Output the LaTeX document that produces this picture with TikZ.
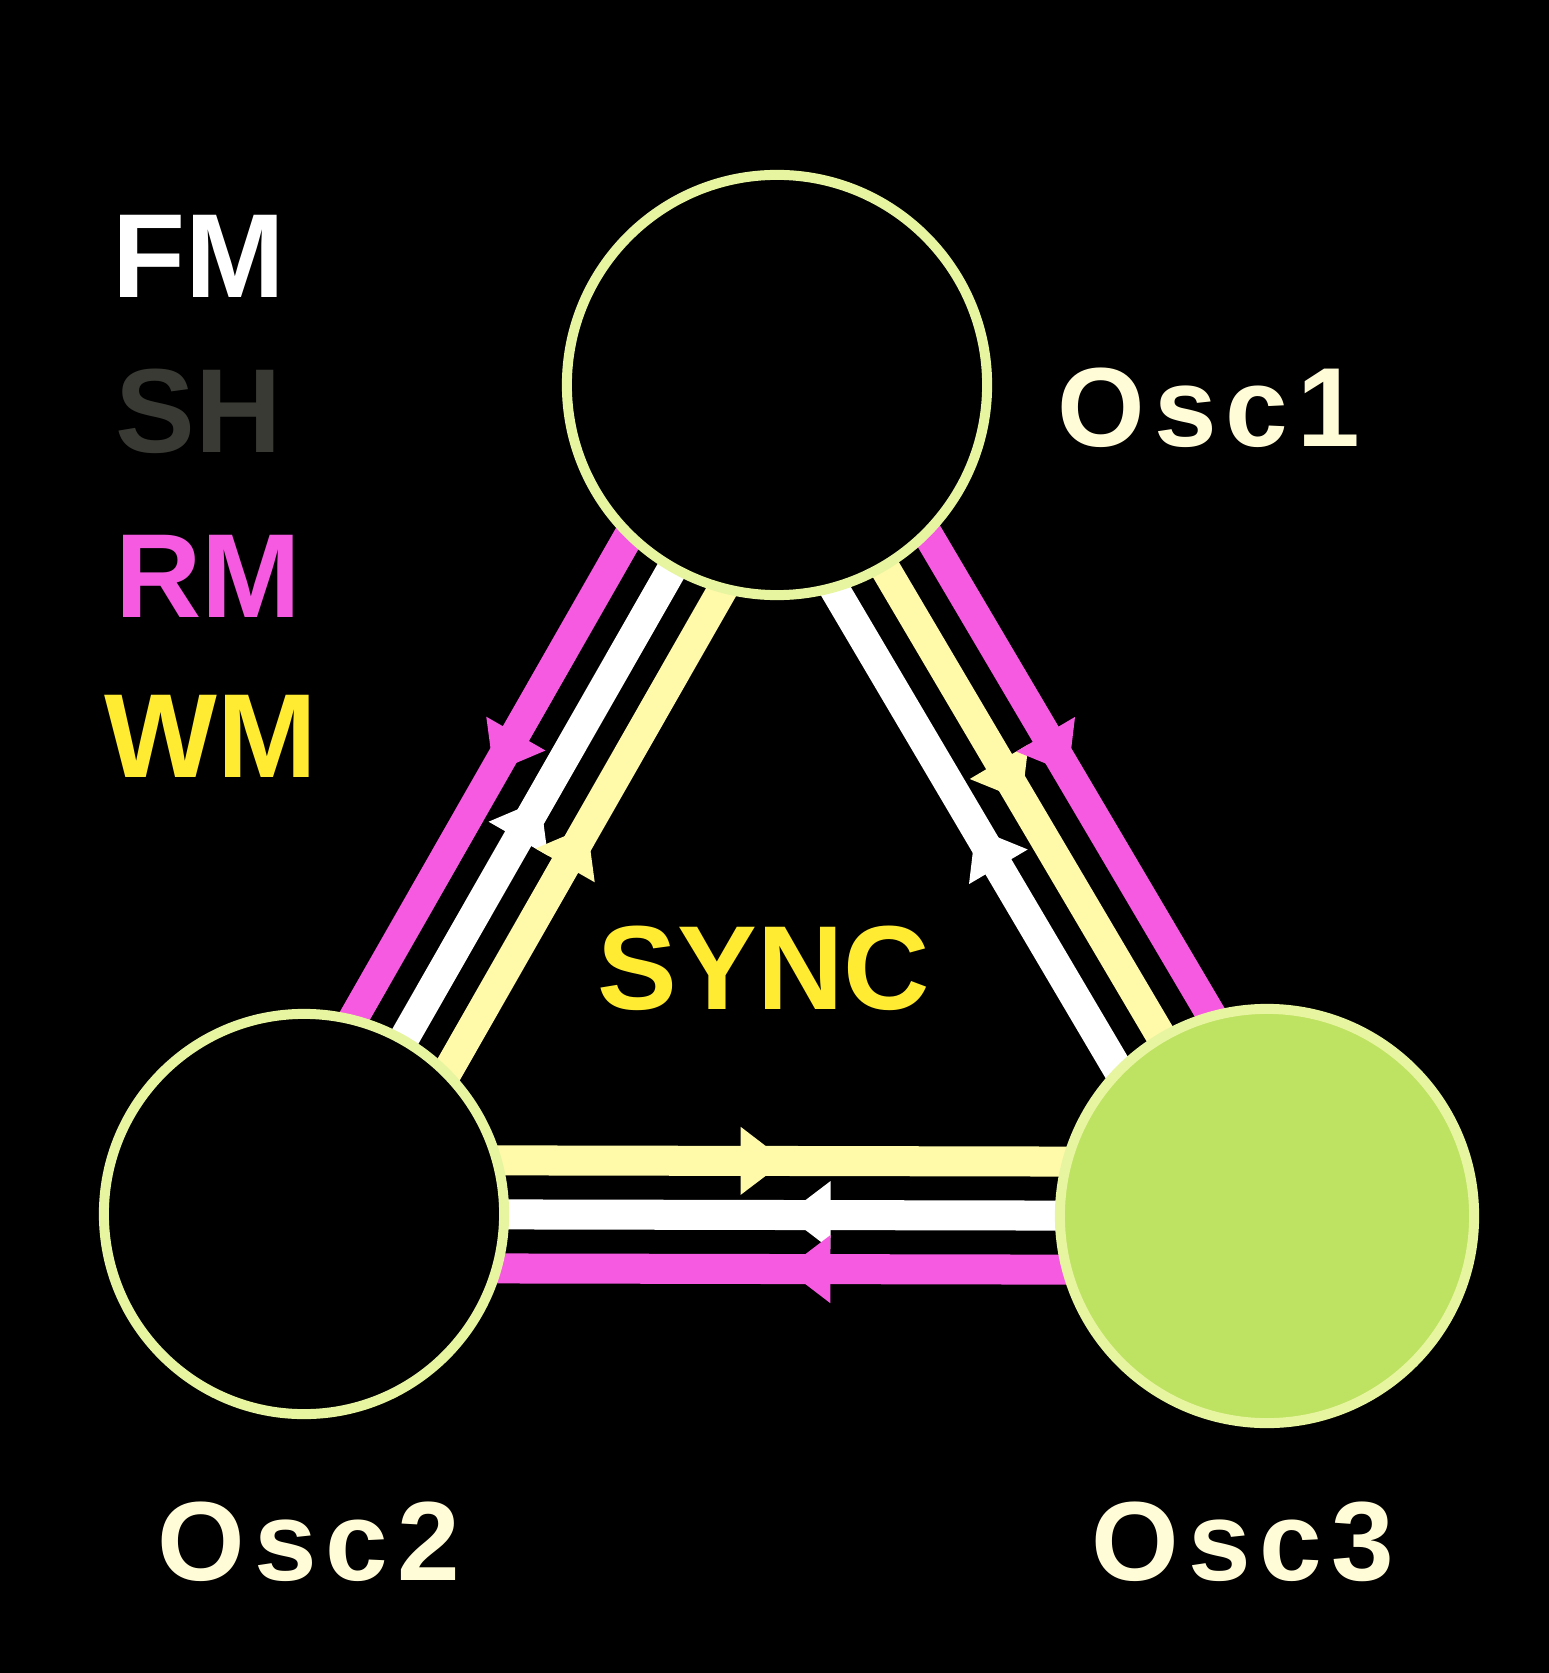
\documentclass[tikz,border=0pt]{standalone}
\usepackage{fontspec}
\setmainfont{Liberation Sans}
\usetikzlibrary{positioning, arrows.meta, calc, backgrounds, decorations.markings}

\definecolor{rmpink}{RGB}{245,90,225}
\definecolor{wmyellow}{RGB}{255,236,50}
\definecolor{wmtint}{RGB}{255,250,170}
\definecolor{shgray}{RGB}{58,58,52}
\definecolor{ringcol}{RGB}{232,245,160}
\definecolor{oscfill}{RGB}{190,226,98}
\definecolor{labelcol}{RGB}{255,252,215}

\begin{document}
\begin{tikzpicture}[x=0.01cm, y=-0.01cm,
  osc/.style={circle, draw=ringcol, line width=1mm, fill=black, inner sep=0pt},
  leg/.style={font=\fontsize{34}{34}\selectfont\bfseries},
  lbl/.style={text=labelcol, font=\fontsize{32}{32}\selectfont\bfseries\addfontfeature{LetterSpace=8}},
  mod/.style={line width=3mm, postaction={decorate},
    decoration={markings, mark=at position 0.5 with {\arrow{Triangle[width=6.5mm, length=4.5mm]}}}},
  fmline/.style={mod, white},
  rmline/.style={mod, rmpink},
  wmline/.style={mod, wmtint}]
\useasboundingbox (0,0) rectangle (1549,1673);
\begin{scope}[on background layer]
\fill[black] (0,0) rectangle (1549,1673);
\end{scope}

% oscillators
\node[osc, minimum size=4.2cm] (o1) at (777,385) {};
\node[osc, minimum size=4.0cm] (o2) at (304,1214) {};
\node[osc, minimum size=4.14cm, fill=oscfill] (o3) at (1267,1216) {};

\node[lbl] (l1) at (1209,408) {Osc1};
\node[lbl] (l2) at (309,1542) {Osc2};
\node[lbl] (l3) at (1243,1542) {Osc3};

% legend
\node[leg, text=white] (fm) at (199,256) {FM};
\node[leg, text=shgray] (sh) at (199,411) {SH};
\node[leg, text=rmpink] (rm) at (208,576) {RM};
\node[leg, text=wmyellow] (wm) at (211,736) {WM};

\node[leg, text=wmyellow] (sync) at (764,968) {SYNC};

% modulation routes
\begin{scope}[on background layer]
% Osc1 -- Osc2
\draw[rmline] ($(o1.center)!0.54cm!-90:(o2.center)$) -- ($(o2.center)!0.54cm!90:(o1.center)$);
\draw[fmline] ($(o2.center)!0cm!90:(o1.center)$) -- ($(o1.center)!0cm!-90:(o2.center)$);
\draw[wmline] ($(o2.center)!-0.54cm!90:(o1.center)$) -- ($(o1.center)!-0.54cm!-90:(o2.center)$);
% Osc2 -- Osc3
\draw[wmline] ($(o2.center)!0.54cm!90:(o3.center)$) -- ($(o3.center)!0.54cm!-90:(o2.center)$);
\draw[fmline] ($(o3.center)!0cm!-90:(o2.center)$) -- ($(o2.center)!0cm!90:(o3.center)$);
\draw[rmline] ($(o3.center)!-0.54cm!-90:(o2.center)$) -- ($(o2.center)!-0.54cm!90:(o3.center)$);
% Osc3 -- Osc1
\draw[fmline] ($(o3.center)!0.54cm!90:(o1.center)$) -- ($(o1.center)!0.54cm!-90:(o3.center)$);
\draw[wmline] ($(o1.center)!0cm!-90:(o3.center)$) -- ($(o3.center)!0cm!90:(o1.center)$);
\draw[rmline] ($(o1.center)!-0.54cm!-90:(o3.center)$) -- ($(o3.center)!-0.54cm!90:(o1.center)$);
\end{scope}
\end{tikzpicture}
\end{document}
